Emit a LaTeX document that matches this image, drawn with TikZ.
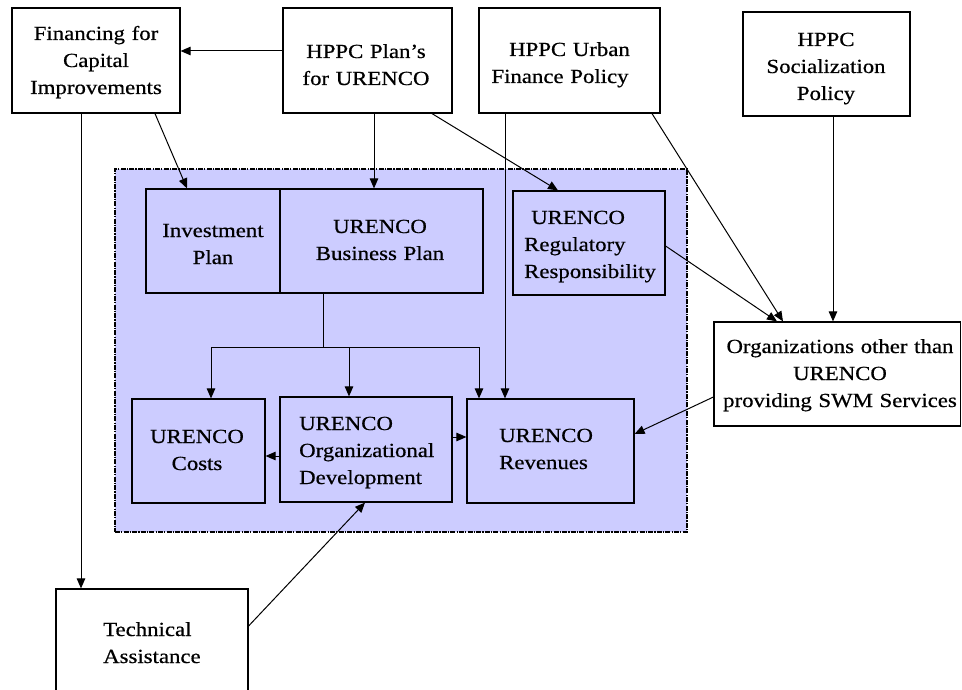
\documentclass[tikz,border=0pt]{standalone}
\usepackage{fontspec}
\setmainfont{Liberation Serif}[FakeStretch=1.14,FakeBold=0.6]
\usetikzlibrary{arrows.meta}
\definecolor{panel}{RGB}{204,204,255}
\tikzset{
  box/.style={draw=black, line width=1.2pt, fill=white, inner sep=0pt},
  ibox/.style={box, fill=panel},
  panelbox/.style={draw=black, fill=panel, line width=1.4pt,
    dash pattern=on 5pt off 1.2pt on 1.2pt off 1.2pt, inner sep=0pt},
  ctext/.style={inner sep=0pt, text width=300pt, align=center, anchor=base,
    font=\fontsize{20}{27}\selectfont},
  ltext/.style={inner sep=0pt, text width=300pt, align=left, anchor=base west,
    font=\fontsize{20}{27}\selectfont},
  arr/.style={draw=black, line width=1pt, -{Triangle[length=10pt,width=8.5pt]}},
  link/.style={draw=black, line width=1pt}
}
\begin{document}
\begin{tikzpicture}[x=1pt,y=-1pt]
\path[use as bounding box] (0,0) rectangle (962,690);
\clip (0,0) rectangle (962,690);

% shaded core group
\node[panelbox, minimum width=572pt, minimum height=363pt] (core) at (401,350.5) {};

% outer boxes
\node[box, minimum width=168pt, minimum height=105pt] (fin) at (96,60.5) {};
\node[box, minimum width=169pt, minimum height=105pt] (plan) at (367.5,60.5) {};
\node[box, minimum width=181pt, minimum height=105pt] (urban) at (569.5,60.5) {};
\node[box, minimum width=167pt, minimum height=104pt] (social) at (826.5,64) {};
\node[box, minimum width=246.5pt, minimum height=104pt] (orgs) at (837.25,374) {};
\node[box, minimum width=192pt, minimum height=130pt] (ta) at (152,654) {};

% boxes inside the core group
\node[ibox, minimum width=134pt, minimum height=104pt] (inv) at (213,241) {};
\node[ibox, minimum width=203pt, minimum height=104pt] (bus) at (381.5,241) {};
\node[ibox, minimum width=152pt, minimum height=104pt] (reg) at (589,243) {};
\node[ibox, minimum width=133pt, minimum height=104pt] (costs) at (198.5,451) {};
\node[ibox, minimum width=172pt, minimum height=105pt] (org) at (366,449.5) {};
\node[ibox, minimum width=167pt, minimum height=104pt] (rev) at (550.5,451) {};

% labels
\node[ctext] (tfin) at (96,40) {Financing for\\Capital\\Improvements};
\node[ctext] (tplan) at (366,58) {HPPC Plan’s\\for URENCO};
\node[ctext] (turban) at (560,56) {\hspace*{19pt}HPPC Urban\\Finance Policy};
\node[ctext] (tsocial) at (826,46) {HPPC\\Socialization\\Policy};
\node[ctext] (tinv) at (213,237) {Investment\\Plan};
\node[ctext] (tbus) at (380,233) {URENCO\\Business Plan};
\node[ltext] (treg) at (524,224) {\hspace*{7pt}URENCO\\Regulatory\\Responsibility};
\node[ctext] (tcosts) at (197,443) {URENCO\\Costs};
\node[ltext] (torg) at (299,430) {URENCO\\Organizational\\Development};
\node[ltext] (trev) at (499,442) {URENCO\\Revenues};
\node[ctext] (torgs) at (840,353) {Organizations other than\\URENCO\\providing SWM Services};
\node[ltext] (tta) at (103,636) {Technical\\Assistance};

% connectors
\draw[arr] (plan.west |- 0,51) -- (fin.east |- 0,51);
\draw[arr] (fin.south -| 81,0) -- (ta.north -| 81,0);
\draw[arr] (fin.south -| 155,0) -- (inv.north -| 187,0);
\draw[arr] (plan.south -| 374,0) -- (bus.north -| 374,0);
\draw[arr] (plan.south -| 432,0) -- (reg.north -| 558,0);
\draw[arr] (urban.south -| 505,0) -- (rev.north -| 505,0);
\draw[arr] (urban.south -| 652,0) -- (orgs.north -| 783,0);
\draw[arr] (reg.east |- 0,246) -- (orgs.north -| 777,0);
\draw[arr] (social.south -| 833,0) -- (orgs.north -| 833,0);
\draw[arr] (orgs.west |- 0,397) -- (rev.east |- 0,434);

\coordinate (split) at (323,347);
\draw[link] (bus.south -| split) -- (split);
\draw[arr] (split) -| (costs.north -| 211,0);
\draw[arr] (split) -| (org.north -| 349,0);
\draw[arr] (split) -| (rev.north -| 479,0);

\draw[arr] (org.west |- 0,456) -- (costs.east |- 0,456);
\draw[arr] (org.east |- 0,437) -- (rev.west |- 0,437);
\draw[arr] (ta.east |- 0,626) -- (org.south -| 365,0);
\end{tikzpicture}
\end{document}
